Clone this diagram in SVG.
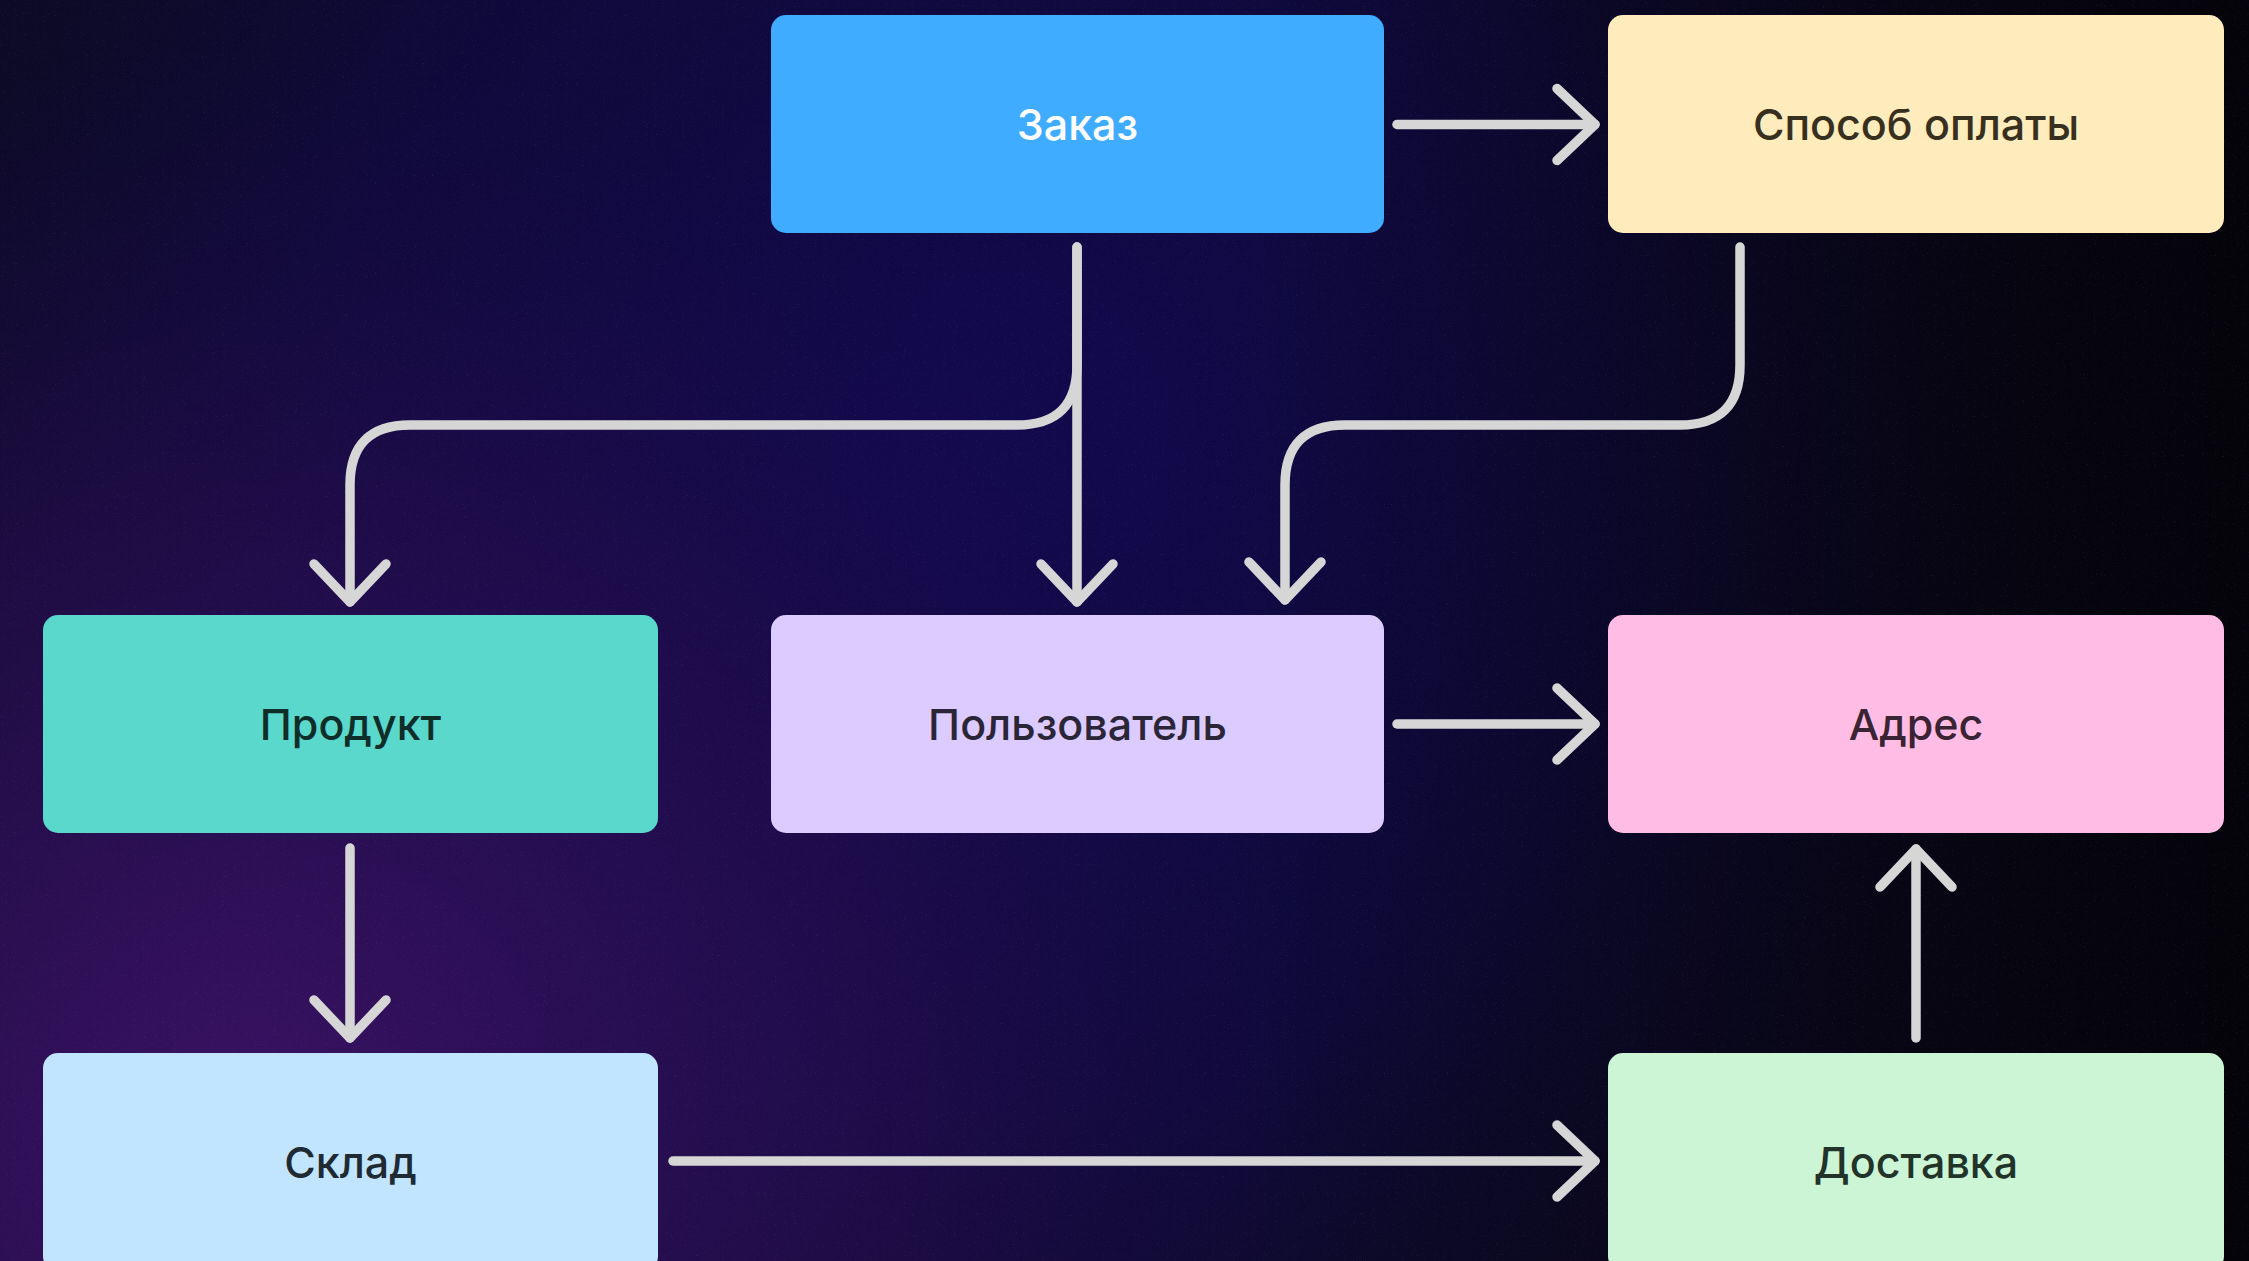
<svg xmlns="http://www.w3.org/2000/svg" width="2249" height="1261" viewBox="0 0 2249 1261">
<defs>
<style>
.node text{font-family:Inter,"Noto Sans","Liberation Sans",sans-serif;font-size:43px;font-weight:500;text-anchor:middle}
.conn path{fill:none;stroke:#d6d6d6;stroke-width:9.5;stroke-linecap:round;stroke-linejoin:round}
</style>
<radialGradient id="gPurple" cx="250" cy="1150" r="1100" gradientUnits="userSpaceOnUse">
<stop offset="0" stop-color="#3c1266" stop-opacity="1"/>
<stop offset="0.55" stop-color="#2a0e55" stop-opacity="0.6"/>
<stop offset="1" stop-color="#1a0a4a" stop-opacity="0"/>
</radialGradient>
<radialGradient id="gIndigo" cx="1000" cy="450" r="1100" gradientUnits="userSpaceOnUse">
<stop offset="0" stop-color="#12094e" stop-opacity="1"/>
<stop offset="0.6" stop-color="#100944" stop-opacity="0.7"/>
<stop offset="1" stop-color="#0e0a36" stop-opacity="0"/>
</radialGradient>
<linearGradient id="gDark" x1="0" y1="0" x2="2249" y2="0" gradientUnits="userSpaceOnUse">
<stop offset="0.55" stop-color="#040308" stop-opacity="0"/>
<stop offset="1" stop-color="#040308" stop-opacity="0.95"/>
</linearGradient>
<filter id="noise" x="0" y="0" width="100%" height="100%">
<feTurbulence type="fractalNoise" baseFrequency="0.9" numOctaves="2" seed="3" result="t"/>
<feColorMatrix in="t" type="matrix" values="0 0 0 0 0.6  0 0 0 0 0.6  0 0 0 0 0.75  0 0 0 1.4 -0.9"/>
</filter>
<marker id="arrow" markerUnits="userSpaceOnUse" markerWidth="100" markerHeight="100" refX="0" refY="0" orient="auto" overflow="visible" viewBox="-50 -50 100 100">
<path d="M-38,-36 L0,0 L-38,36" fill="none" stroke="#d6d6d6" stroke-width="9.5" stroke-linecap="round" stroke-linejoin="round"/>
</marker>
</defs>
<rect width="2249" height="1261" fill="#0d0a26"/>
<rect width="2249" height="1261" fill="url(#gIndigo)"/>
<rect width="2249" height="1261" fill="url(#gPurple)"/>
<rect width="2249" height="1261" fill="url(#gDark)"/>
<rect width="2249" height="1261" filter="url(#noise)" opacity="0.25"/>

<g id="connectors" class="conn">
<path d="M1397,124.5 H1595" marker-end="url(#arrow)"/>
<path d="M1077,247 V602" marker-end="url(#arrow)"/>
<path d="M1077,247 V365 Q1077,425 1017,425 H410 Q350,425 350,485 V602" marker-end="url(#arrow)"/>
<path d="M1740,247 V365 Q1740,425 1680,425 H1345 Q1285,425 1285,485 V600" marker-end="url(#arrow)"/>
<path d="M1397,724 H1595" marker-end="url(#arrow)"/>
<path d="M350,848 V1038" marker-end="url(#arrow)"/>
<path d="M673,1161 H1595" marker-end="url(#arrow)"/>
<path d="M1916,1038 V849" marker-end="url(#arrow)"/>
</g>

<g id="node-zakaz" class="node">
<rect x="771" y="15" width="613" height="218" rx="15" fill="#3facff"/>
<text x="1077.5" y="140" fill="#ffffff">Заказ</text>
</g>
<g id="node-sposob" class="node">
<rect x="1608" y="15" width="616" height="218" rx="15" fill="#ffecbd"/>
<text x="1916" y="140" fill="#38301f">Способ оплаты</text>
</g>
<g id="node-produkt" class="node">
<rect x="43" y="615" width="615" height="218" rx="15" fill="#5ad8cb"/>
<text x="350.5" y="740" fill="#0f2e29">Продукт</text>
</g>
<g id="node-polzovatel" class="node">
<rect x="771" y="615" width="613" height="218" rx="15" fill="#dccbff"/>
<text x="1077.5" y="740" fill="#2b2538">Пользователь</text>
</g>
<g id="node-adres" class="node">
<rect x="1608" y="615" width="616" height="218" rx="15" fill="#ffbde6"/>
<text x="1916" y="740" fill="#3a2332">Адрес</text>
</g>
<g id="node-sklad" class="node">
<rect x="43" y="1053" width="615" height="218" rx="15" fill="#c1e4ff"/>
<text x="350.5" y="1178" fill="#1f2a33">Склад</text>
</g>
<g id="node-dostavka" class="node">
<rect x="1608" y="1053" width="616" height="218" rx="15" fill="#ccf5d5"/>
<text x="1916" y="1178" fill="#22332a">Доставка</text>
</g>
</svg>
